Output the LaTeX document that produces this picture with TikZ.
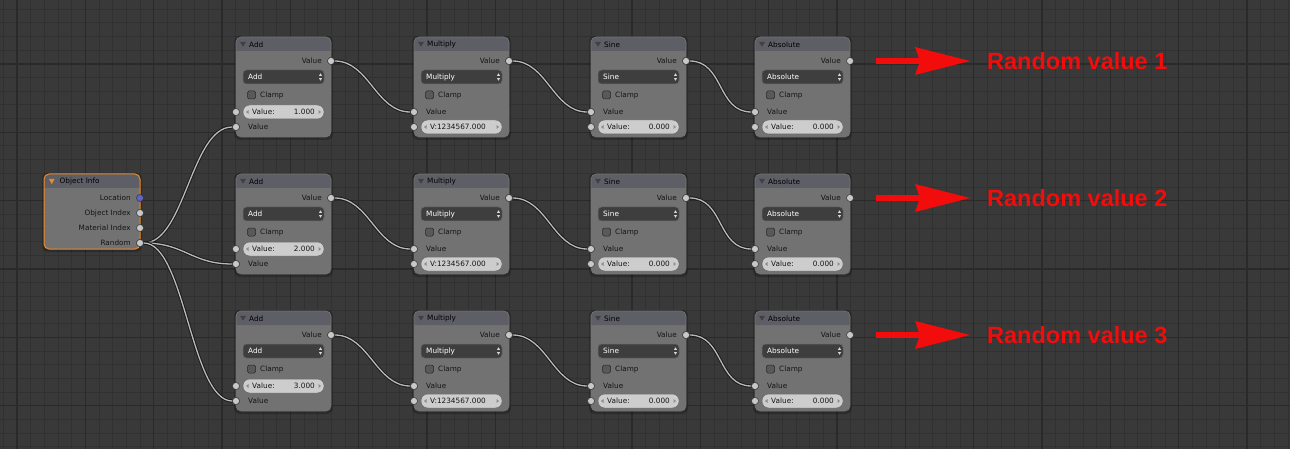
\documentclass[tikz,border=0pt]{standalone}
\usepackage{fontspec}
\setmainfont{DejaVu Sans}
\newfontfamily\arialfont{Liberation Sans}
\definecolor{bg}{HTML}{393939}
\definecolor{gridminor}{HTML}{313131}
\definecolor{gridmajor}{HTML}{2A2A2A}
\definecolor{nodebody}{HTML}{727272}
\definecolor{nodehead}{HTML}{5E5E66}
\definecolor{ddfill}{HTML}{3E3E3E}
\definecolor{pillfill}{HTML}{CDCDCD}
\definecolor{sockfill}{HTML}{C8C8C8}
\definecolor{blendorange}{HTML}{F08A24}
\definecolor{vecsock}{HTML}{6363C7}
\definecolor{arrred}{HTML}{F20C0C}
\definecolor{txtdark}{HTML}{151515}
\definecolor{wirecore}{HTML}{B8B8B8}
\tikzset{
  nodetext/.style={inner sep=0pt, font=\fontsize{7.3}{8}\selectfont},
  lbl/.style={nodetext, text=txtdark, anchor=west},
  headtxt/.style={nodetext, text=black, anchor=west},
  ddtxt/.style={nodetext, text=white, anchor=west},
  pilltxt/.style={nodetext, text=txtdark},
  socket/.style={circle, fill=sockfill, draw=black!80, line width=0.5pt, minimum size=7pt, inner sep=0pt},
  vsocket/.style={socket, fill=vecsock},
  nodeedge/.style={draw=black!55, line width=0.6pt},
  wireback/.style={draw=black!90, line width=3.2pt},
  wirefront/.style={draw=wirecore, line width=1.3pt},
  redtxt/.style={text=arrred, anchor=west, inner sep=0pt, font=\arialfont\bfseries\fontsize{23.5}{26}\selectfont},
}
\newcommand\pillfield[3]{%
  \filldraw[fill=pillfill, draw=black!60, line width=0.5pt, rounded corners=6.5] (7,#1-7) rectangle (88,#1+7);
  \fill[black!45] (12.5,#1-2) -- (10,#1) -- (12.5,#1+2) -- cycle;
  \fill[black!45] (82.5,#1-2) -- (85,#1) -- (82.5,#1+2) -- cycle;
  \node[pilltxt, anchor=west] at (16,#1) {#2};
  \node[pilltxt, anchor=east] at (79,#1) {#3};
}
\newcommand\bnode[7]{%
\begin{scope}[shift={(#2,#3)}]
  \fill[black, opacity=0.22, rounded corners=6] (-2,-1) rectangle (97,103);
  \fill[nodebody, rounded corners=5] (0,0) rectangle (95,100);
  \fill[nodehead, rounded corners=5] (0,14) -- (0,0) -- (95,0) [sharp corners] -- (95,14) -- cycle;
  \draw[nodeedge, rounded corners=5] (0,0) rectangle (95,100);
  \fill[black!75] (4,4.8) -- (10,4.8) -- (7,9.8) -- cycle;
  \node[headtxt] at (13,7.3) {#4};
  \node[lbl, anchor=east] at (86,24) {Value};
  \node[socket] (#1-out) at (95,24) {};
  \filldraw[fill=ddfill, draw=black!60, line width=0.5pt, rounded corners=3.5] (7,33) rectangle (88,47);
  \node[ddtxt] at (12,40) {#4};
  \fill[white!85!black] (83,38.8) -- (84.5,36.3) -- (86,38.8) -- cycle;
  \fill[white!85!black] (83,41.2) -- (84.5,43.7) -- (86,41.2) -- cycle;
  \filldraw[fill=black!65, draw=black!85, line width=0.5pt, rounded corners=1.5] (11.5,54) rectangle (19.5,62);
  \node[lbl] at (24,58.3) {Clamp};
  \ifnum#5=1
    \pillfield{75}{#6}{#7}
    \node[socket] (#1-a) at (0,75) {};
    \node[lbl] at (12,90) {Value};
    \node[socket] (#1-b) at (0,90) {};
  \else
    \node[lbl] at (12,75) {Value};
    \node[socket] (#1-a) at (0,75) {};
    \pillfield{90}{#6}{#7}
    \node[socket] (#1-b) at (0,90) {};
  \fi
\end{scope}}
\newcommand\wire[2]{%
  \draw[wireback] (#1) .. controls +(38,0) and +(-38,0) .. (#2);
  \draw[wirefront] (#1) .. controls +(38,0) and +(-38,0) .. (#2);
}
\begin{document}
\begin{tikzpicture}[x=1pt, y=-1pt]
  \useasboundingbox (0,0) rectangle (1290,449);
  \fill[bg] (0,0) rectangle (1290,449);
  \begin{scope}
    \clip (0,0) rectangle (1290,449);
    \foreach \i in {0,...,95} {
      \pgfmathsetmacro\xx{3.333+13.6667*\i}
      \draw[gridminor, line width=1pt] (\xx,0) -- (\xx,449);
    }
    \foreach \i in {0,...,34} {
      \pgfmathsetmacro\yy{-4.333+13.6667*\i}
      \draw[gridminor, line width=1pt] (0,\yy) -- (1290,\yy);
    }
    \foreach \i in {0,...,19} {
      \pgfmathsetmacro\xx{17+68.333*\i}
      \draw[gridmajor, line width=1.2pt] (\xx,0) -- (\xx,449);
    }
    \foreach \i in {0,...,7} {
      \pgfmathsetmacro\yy{-4.333+68.333*\i}
      \draw[gridmajor, line width=1.2pt] (0,\yy) -- (1290,\yy);
    }
  \end{scope}

  % Object Info node
  \begin{scope}[shift={(44,174)}]
    \fill[black, opacity=0.22, rounded corners=6] (-2,-1) rectangle (98,78);
    \fill[nodebody, rounded corners=5] (0,0) rectangle (96,75);
    \fill[nodehead, rounded corners=5] (0,14) -- (0,0) -- (96,0) [sharp corners] -- (96,14) -- cycle;
    \draw[blendorange, line width=1pt, rounded corners=5] (0,0) rectangle (96,75);
    \fill[blendorange] (5,5) -- (10.5,5) -- (7.75,10) -- cycle;
    \node[headtxt] at (15.5,7.3) {Object Info};
    \node[lbl, anchor=east] at (87,24) {Location};
    \node[lbl, anchor=east] at (87,39) {Object Index};
    \node[lbl, anchor=east] at (87,54) {Material Index};
    \node[lbl, anchor=east] at (87,69) {Random};
    \node[vsocket] (oi-loc) at (96,24) {};
    \node[socket] (oi-obj) at (96,39) {};
    \node[socket] (oi-mat) at (96,54) {};
    \node[socket] (oi-rand) at (96,69) {};
  \end{scope}

  \foreach \r/\T/\n in {1/37/1.000, 2/174/2.000, 3/311/3.000} {
    \bnode{a\r}{236}{\T}{Add}{1}{Value:}{\n}
    \bnode{m\r}{414}{\T}{Multiply}{2}{V:1234567.000}{}
    \bnode{s\r}{591}{\T}{Sine}{2}{Value:}{0.000}
    \bnode{b\r}{755}{\T}{Absolute}{2}{Value:}{0.000}
  }

  \foreach \r in {1,2,3} {
    \wire{a\r-out}{m\r-a}
    \wire{m\r-out}{s\r-a}
    \wire{s\r-out}{b\r-a}
  }
  \draw[wireback] (oi-rand) .. controls +(45,0) and +(-45,0) .. (a1-b);
  \draw[wirefront] (oi-rand) .. controls +(45,0) and +(-45,0) .. (a1-b);
  \draw[wireback] (oi-rand) .. controls +(45,0) and +(-45,0) .. (a2-b);
  \draw[wirefront] (oi-rand) .. controls +(45,0) and +(-45,0) .. (a2-b);
  \draw[wireback] (oi-rand) .. controls +(45,0) and +(-45,0) .. (a3-b);
  \draw[wirefront] (oi-rand) .. controls +(45,0) and +(-45,0) .. (a3-b);
  \node[socket] at (oi-rand) {};
  \foreach \r in {1,2,3} {
    \node[socket] at (a\r-b) {};
    \node[socket] at (a\r-out) {};
    \node[socket] at (m\r-a) {};
    \node[socket] at (m\r-out) {};
    \node[socket] at (s\r-a) {};
    \node[socket] at (s\r-out) {};
    \node[socket] at (b\r-a) {};
  }

  % red arrows and labels
  \foreach \r/\y in {1/61, 2/198, 3/335} {
    \coordinate (t\r) at (876,\y);
    \coordinate (h\r) at (970,\y);
    \fill[arrred] (t\r) ++(0,-2.6) rectangle ++(48,5.2);
    \fill[arrred] (h\r) -- ++(-55,-14) -- ++(5,14) -- ++(-5,14) -- cycle;
    \node[redtxt] (rv\r) at (987,\y) {Random value \r};
  }
\end{tikzpicture}
\end{document}
